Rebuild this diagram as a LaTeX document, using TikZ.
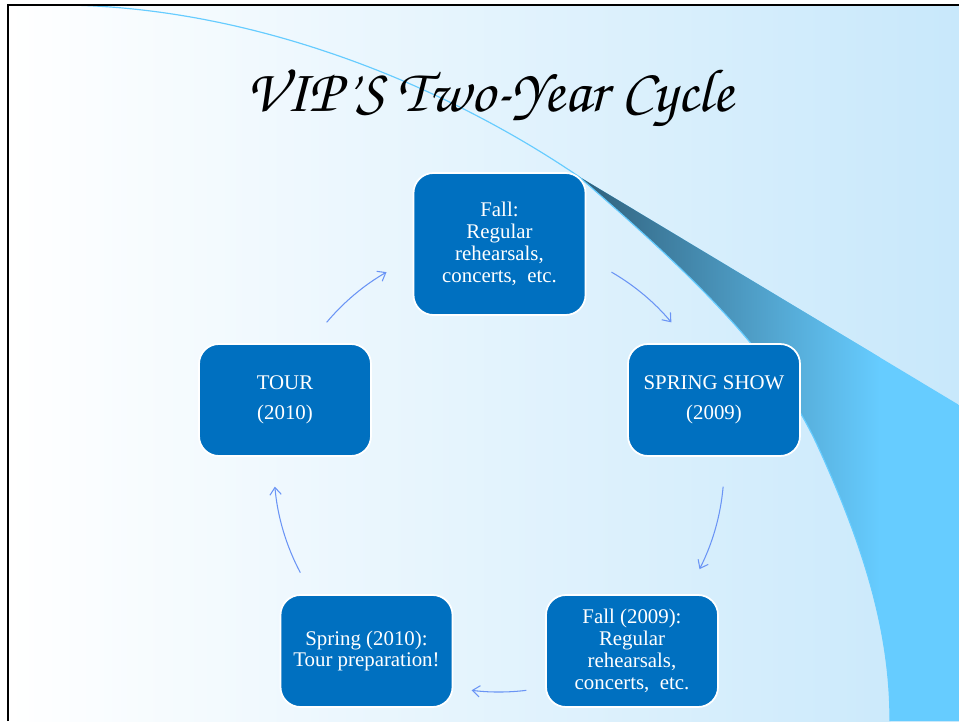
\documentclass[tikz,border=0pt]{standalone}
\usepackage[T1,TU]{fontenc}
\usepackage{fontspec}
\setmainfont{Liberation Serif}
\usetikzlibrary{arrows.meta}
\definecolor{boxblue}{HTML}{0070C0}
\definecolor{cyclearrow}{HTML}{6A94F5}
\definecolor{swoosh}{HTML}{66CCFF}
\definecolor{swooshdark}{HTML}{2F5F7A}
\definecolor{slideblue}{HTML}{C8E8FB}
\newcommand\titlefont{\fontencoding{T1}\fontfamily{pzc}\fontseries{mb}\fontshape{it}\selectfont}

\begin{document}
\begin{tikzpicture}[x=0.03cm,y=0.03cm,
  stage/.style={draw=white, line width=1.5pt, fill=boxblue, text=white, rounded corners=0.6cm,
    align=center, minimum width=5.16cm, minimum height=3.36cm, inner sep=0pt,
    font=\fontsize{17.8}{18.6}\selectfont},
  cyc/.style={draw=cyclearrow, line width=0.9pt, -{Straight Barb[length=2.2mm,width=3.4mm]}}]
\useasboundingbox (0,0) rectangle (959,721);
% slide background
\fill[white] (0,0) rectangle (959,721);
\shade[left color=white, right color=slideblue] (8,0) rectangle (959,716);
\begin{scope}
\clip (578,545) -- (959,316) -- (959,0) -- (890,0) .. controls (890,80) and (870,160) .. (820,270)
  .. controls (780,360) and (700,440) .. (578,545) -- cycle;
\fill[swoosh] (578,0) rectangle (959,545);
\shade[left color=swooshdark, right color=swoosh] (578,0) rectangle (880,545);
\end{scope}
\draw[swoosh, line width=1pt] (63,716) .. controls (260,714) and (450,632) .. (578,545)
  .. controls (700,440) and (780,360) .. (820,270) .. controls (870,160) and (890,80) .. (890,0);
\draw[line width=1.7pt] (8,0) |- (959,716);
% title
\node[anchor=base, font={\fontsize{52}{56}\titlefont}] (title) at (490,609) {VIP'S Two-Year Cycle};
% stages
\node[stage, minimum height=4.26cm] (fall) at (499.5,477) {Fall:\\Regular\\rehearsals,\\concerts,~ etc.};
\node[stage] (spring) at (714,321) {SPRING SHOW\\[7pt](2009)};
\node[stage] (tour) at (285,321) {TOUR\\[7pt](2010)};
\node[stage] (fallb) at (632,70) {Fall (2009):\\Regular\\rehearsals,\\concerts,~ etc.};
\node[stage] (springb) at (366.5,70) {Spring (2010):\\Tour preparation!};
% cycle arrows
\coordinate (hub) at (499,254);
\foreach \a/\b in {140/120, 60/40, -5/-27, -83/-97, 208/185}
  \draw[cyc] ([shift={(\a:225)}]hub) arc[start angle=\a, end angle=\b, radius=225];
\end{tikzpicture}
\end{document}
